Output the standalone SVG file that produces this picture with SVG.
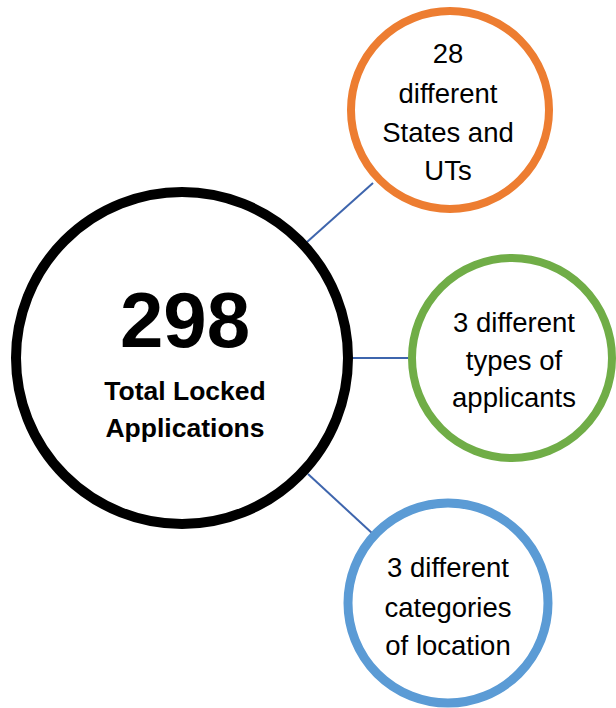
<svg xmlns="http://www.w3.org/2000/svg" width="616" height="708" viewBox="0 0 616 708">
  <style>
    .ring { fill: #ffffff; }
    .conn { stroke: #3E65AD; stroke-width: 2; fill: none; }
    .lbl { font-family: "Liberation Sans", Arial, sans-serif; font-size: 27.5px; fill: #000000; text-anchor: middle; }
    .big { font-family: "Liberation Sans", Arial, sans-serif; font-weight: bold; fill: #000000; text-anchor: middle; }
  </style>
  <rect width="616" height="708" fill="#ffffff"/>
  <g id="connectors">
    <line class="conn" x1="307" y1="242" x2="373" y2="183"/>
    <line class="conn" x1="352" y1="358" x2="410" y2="358"/>
    <line class="conn" x1="308" y1="474" x2="373" y2="534"/>
  </g>
  <g id="node-total">
    <circle class="ring" cx="182" cy="358" r="166" stroke="#000000" stroke-width="10"/>
    <text class="big" x="185" y="347" font-size="78">298</text>
    <text class="big" x="185" y="400" font-size="26.5">Total Locked</text>
    <text class="big" x="185" y="437" font-size="26.5">Applications</text>
  </g>
  <g id="node-states">
    <circle class="ring" cx="450" cy="110" r="99" stroke="#ED7D31" stroke-width="8"/>
    <text class="lbl" x="448" y="63">28</text>
    <text class="lbl" x="448" y="103">different</text>
    <text class="lbl" x="448" y="142">States and</text>
    <text class="lbl" x="448" y="180">UTs</text>
  </g>
  <g id="node-applicants">
    <circle class="ring" cx="512" cy="358" r="100" stroke="#70AD47" stroke-width="8"/>
    <text class="lbl" x="514" y="332">3 different</text>
    <text class="lbl" x="514" y="370">types of</text>
    <text class="lbl" x="514" y="407">applicants</text>
  </g>
  <g id="node-location">
    <circle class="ring" cx="448" cy="603" r="100" stroke="#5B9BD5" stroke-width="9"/>
    <text class="lbl" x="448" y="577">3 different</text>
    <text class="lbl" x="448" y="617">categories</text>
    <text class="lbl" x="448" y="655">of location</text>
  </g>
</svg>
